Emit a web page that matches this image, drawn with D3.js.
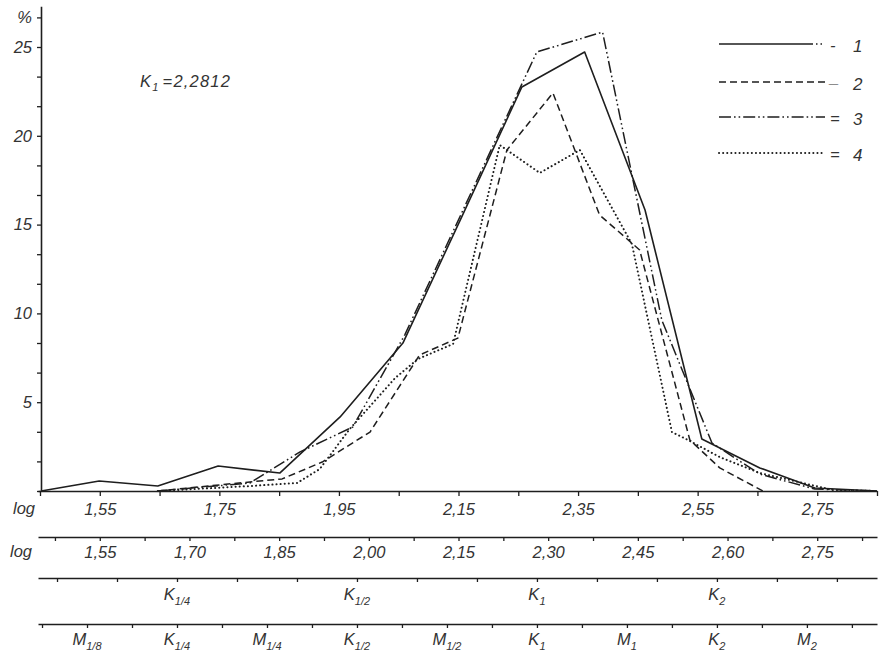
<!DOCTYPE html>
<html>
<head>
<meta charset="utf-8">
<script src="https://cdn.jsdelivr.net/npm/d3@7/dist/d3.min.js"></script>
<style>
body { margin: 0; background: #fff; }
text { font-family: "Liberation Sans", Arial, sans-serif; font-style: italic; fill: #333; }
</style>
</head>
<body>
<svg id="chart" width="879" height="656"></svg>
<script>
// series: log of class value -> percent
var classX1 = [1.452, 1.549, 1.647, 1.748, 1.851, 1.952, 2.057, 2.156, 2.256, 2.361, 2.462, 2.557, 2.654, 2.746, 2.850];
var pct1    = [0, 0.56, 0.28, 1.41, 1.01, 4.17, 8.33, 15.48, 22.75, 24.72, 15.82, 2.93, 1.30, 0.17, 0];

var classX2 = [1.647, 1.801, 1.855, 1.922, 2.002, 2.085, 2.149, 2.231, 2.308, 2.386, 2.453, 2.537, 2.587, 2.659];
var pct2    = [0, 0.51, 0.68, 1.63, 3.32, 7.66, 8.61, 19.2, 22.41, 15.54, 13.57, 2.87, 1.30, 0];

var classX3 = [1.647, 1.801, 1.885, 1.973, 2.060, 2.281, 2.391, 2.490, 2.574, 2.654, 2.746, 2.850];
var pct3    = [0, 0.45, 2.2, 3.6, 8.78, 24.72, 25.84, 9.63, 2.7, 0.95, 0.11, 0];

var classX4 = [1.647, 1.801, 1.880, 1.918, 1.968, 2.044, 2.082, 2.141, 2.219, 2.286, 2.353, 2.440, 2.507, 2.534, 2.587, 2.654, 2.776, 2.850];
var pct4    = [0, 0.28, 0.45, 1.24, 3.49, 6.36, 7.43, 8.28, 19.48, 17.91, 19.2, 13.91, 3.32, 2.87, 1.91, 1.01, 0.06, 0];

var seriesNames = ["1", "2", "3", "4"];
var legendMarks = ["-", "_", "=", "="];

// tick labels
var yLabelValues = [5, 10, 15, 20, 25];
var log1Labels = [1.55, 1.75, 1.95, 2.15, 2.35, 2.55, 2.75];
var log2Labels = [1.55, 1.70, 1.85, 2.00, 2.15, 2.30, 2.45, 2.60, 2.75];
var K1 = 2.2812;
var kSteps = [-6, -3, 0, 3];
var kSubs = ["1/4", "1/2", "1", "2"];
var mSteps = [-10, -8, -6, -4, -2, 0, 2, 4, 6];
var mNames = ["M", "K", "M", "K", "M", "K", "M", "K", "M"];
var mSubs = ["1/8", "1/4", "1/4", "1/2", "1/2", "1", "1", "2", "2"];

var ink = "#1e1e1e";
var styles = [
	{ dash: null, cap: "butt", w: 1.6 },
	{ dash: "7,4", cap: "butt", w: 1.5 },
	{ dash: "12,3,1.6,3,1.6,3", cap: "butt", w: 1.5 },
	{ dash: "0.1,4", cap: "round", w: 2 }
];

var svg = d3.select("#chart");
var x = d3.scaleLinear().domain([1.45, 2.85]).range([40, 877]);
var y = d3.scaleLinear().domain([0, 25]).range([491, 47]);
var comma = v => d3.format(".2f")(v).replace(".", ",");
var close = (a, b) => Math.abs(a - b) < 1e-6;

function styleAxis(g) {
	g.attr("font-family", null).attr("font-size", 16.5);
	g.select(".domain").attr("stroke", ink).attr("stroke-width", 1.6);
	g.selectAll(".tick line").attr("stroke", ink).attr("stroke-width", 1.3);
	g.selectAll(".tick text").attr("fill", null);
}

// y axis
var yTop = 27.3;
var yAxisScale = d3.scaleLinear().domain([0, yTop]).range([y(0), y(yTop)]);
var yTicks = d3.range(17).map(i => i * 5 / 3);
svg.append("g")
	.attr("transform", "translate(41,0)")
	.call(d3.axisLeft(yAxisScale).tickValues(yTicks).tickSize(4).tickSizeOuter(0).tickPadding(5)
		.tickFormat((d, i) => {
			if (i === 16) return "%";
			let hit = yLabelValues.find(v => close(v, d));
			return hit ? String(hit) : "";
		}))
	.call(styleAxis);

// bottom axis 1
var xExt = d3.scaleLinear().domain([x.invert(38), 2.85]).range([38, 877]);
var ticks1 = d3.range(15).map(i => 1.45 + i * 0.1);
svg.append("g")
	.attr("transform", "translate(0,491)")
	.call(d3.axisBottom(xExt).tickValues(ticks1).tickSize(5).tickSizeOuter(0).tickPadding(7)
		.tickFormat(d => log1Labels.some(v => close(v, d)) ? comma(d) : ""))
	.call(styleAxis);

// bottom axis 2
var ticks2 = d3.range(19).map(i => 1.475 + i * 0.075);
svg.append("g")
	.attr("transform", "translate(0,537)")
	.call(d3.axisBottom(xExt).tickValues(ticks2).tickSize(4).tickSizeOuter(0).tickPadding(5)
		.tickFormat(d => log2Labels.some(v => close(v, d)) ? comma(d) : ""))
	.call(styleAxis);

svg.append("text").attr("x", 13).attr("y", 514).attr("font-size", 16.5).text("log");
svg.append("text").attr("x", 10).attr("y", 557).attr("font-size", 16.5).text("log");

// K / M axes
var kStep = Math.log10(2) / 3;
var mStep = Math.log10(2) / 4;
var ticks3 = d3.range(-8, 6).map(k => K1 + k * kStep);
var ticks4 = d3.range(-11, 8).map(k => K1 + k * mStep);

function labelAxis(yPos, ticks, steps, names, subs, step, base) {
	let g = svg.append("g")
		.attr("transform", `translate(0,${yPos})`)
		.call(d3.axisBottom(xExt).tickValues(ticks).tickSize(4).tickSizeOuter(0).tickFormat(""))
		.call(styleAxis);
	steps.forEach((k, i) => {
		let t = g.append("text")
			.attr("x", x(K1 + k * step))
			.attr("y", base)
			.attr("text-anchor", "middle")
			.attr("font-size", 16.5);
		t.append("tspan").text(names[i]);
		t.append("tspan").attr("font-size", 11).attr("dy", 5).text(subs[i]);
	});
}
labelAxis(578, ticks3, kSteps, kSteps.map(() => "K"), kSubs, kStep, 22);
labelAxis(624, ticks4, mSteps, mNames, mSubs, mStep, 21);

// curves
var line = d3.line().x(d => x(d[0])).y(d => y(d[1]));
var series = [
	d3.zip(classX1, pct1),
	d3.zip(classX2, pct2),
	d3.zip(classX3, pct3),
	d3.zip(classX4, pct4)
];
svg.selectAll(".curve")
	.data(series)
	.enter().append("path")
	.attr("class", "curve")
	.attr("d", line)
	.attr("fill", "none")
	.attr("stroke", ink)
	.attr("stroke-width", (d, i) => styles[i].w)
	.attr("stroke-dasharray", (d, i) => styles[i].dash)
	.attr("stroke-linecap", (d, i) => styles[i].cap)
	.attr("stroke-linejoin", "round");

// K1 note
var note = svg.append("text").attr("x", 140).attr("y", 87).attr("font-size", 16.5).attr("letter-spacing", 1.2);
note.append("tspan").text("K");
note.append("tspan").attr("font-size", 11).attr("dy", 4).text("1");
note.append("tspan").attr("dy", -4).attr("dx", 3).text("=2,2812");

// legend
var legendY = [44, 82, 117, 153];
var legend = svg.selectAll(".leg")
	.data(seriesNames)
	.enter().append("g")
	.attr("class", "leg")
	.attr("transform", (d, i) => `translate(0,${legendY[i]})`);

legend.append("line")
	.attr("x1", 719).attr("x2", (d, i) => i === 0 ? 813 : 825)
	.attr("stroke", ink)
	.attr("stroke-width", (d, i) => styles[i].w)
	.attr("stroke-dasharray", (d, i) => styles[i].dash)
	.attr("stroke-linecap", (d, i) => styles[i].cap);
legend.filter((d, i) => i === 0).append("line")
	.attr("x1", 816).attr("x2", 825)
	.attr("stroke", ink).attr("stroke-width", 1.4)
	.attr("stroke-dasharray", "1.5,3");
legend.append("text")
	.attr("x", 830)
	.attr("y", (d, i) => i === 1 ? 1 : 7)
	.attr("font-size", 16.5)
	.text((d, i) => legendMarks[i]);
legend.append("text")
	.attr("x", 853)
	.attr("y", 8)
	.attr("font-size", 17)
	.text(d => d);
</script>
</body>
</html>
